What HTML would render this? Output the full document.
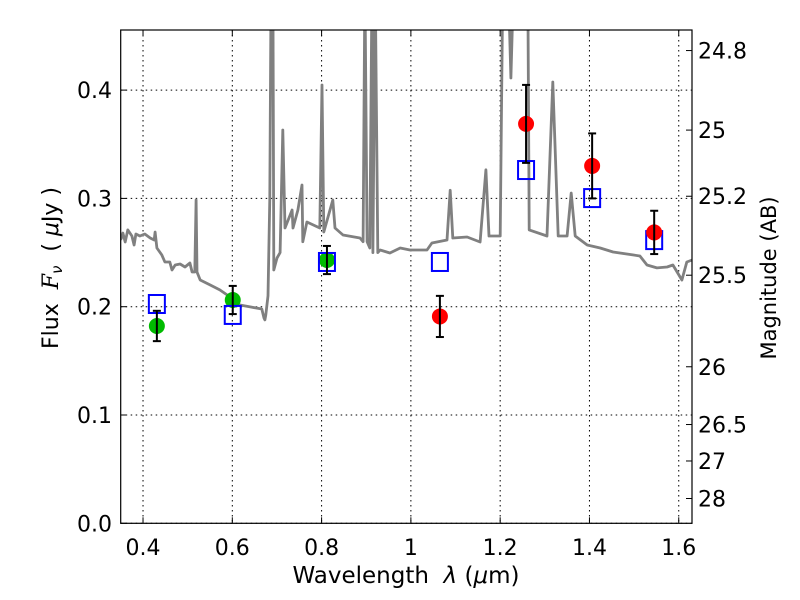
<!DOCTYPE html>
<html><head><meta charset="utf-8"><style>
body{margin:0;background:#fff}
svg{display:block;font-family:"DejaVu Sans","Liberation Sans",sans-serif}
</style></head><body>
<svg id="c" width="800" height="600" xmlns="http://www.w3.org/2000/svg">
<defs><clipPath id="clip"><rect x="120.7" y="30" width="571.3" height="493.3"/></clipPath></defs>
<g id="grid"></g>
<g id="spec" clip-path="url(#clip)"></g>
<g id="marks"></g>
<rect x="120.7" y="30" width="571.3" height="493.3" fill="none" stroke="#000" stroke-width="1.2"/>
<g id="axes"></g>
<text x="406" y="583" font-size="23" text-anchor="middle" xml:space="preserve">Wavelength  <tspan font-style="italic">λ</tspan> (<tspan font-style="italic">μ</tspan>m)</text>
<text transform="translate(58,268) rotate(-90)" font-size="22" text-anchor="middle" xml:space="preserve">Flux  <tspan font-style="italic" font-family="DejaVu Serif">F</tspan><tspan font-size="15" dy="4" font-style="italic">ν</tspan><tspan dy="-4">  ( <tspan font-style="italic">μ</tspan>Jy )</tspan></text>
<text transform="translate(776,278) rotate(-90)" font-size="21" text-anchor="middle">Magnitude (AB)</text>
</svg>
<script>
const xTicks=[0.4,0.6,0.8,1.0,1.2,1.4,1.6];
const xTickLabels=["0.4","0.6","0.8","1","1.2","1.4","1.6"];
const yTicks=[0,0.1,0.2,0.3,0.4];
const yTickLabels=["0.0","0.1","0.2","0.3","0.4"];
const magTicks=[24.8,25,25.2,25.5,26,26.5,27,28];
const magTickLabels=["24.8","25","25.2","25.5","26","26.5","27","28"];
const specWave=[0.35,0.355,0.36,0.366,0.375,0.38,0.384,0.393,0.404,0.416,0.425,0.427,0.431,0.442,0.449,0.46,0.465,0.472,0.483,0.494,0.505,0.51,0.516,0.519,0.521,0.528,0.55,0.572,0.595,0.617,0.64,0.666,0.671,0.673,0.675,0.68,0.684,0.687,0.691,0.693,0.7,0.707,0.713,0.718,0.734,0.736,0.747,0.756,0.758,0.767,0.796,0.801,0.805,0.825,0.83,0.848,0.886,0.893,0.897,0.902,0.908,0.913,0.915,0.92,0.926,0.931,0.953,0.976,0.998,1.036,1.047,1.081,1.088,1.094,1.126,1.155,1.168,1.175,1.2,1.206,1.218,1.224,1.23,1.262,1.265,1.305,1.318,1.33,1.35,1.359,1.368,1.395,1.424,1.453,1.497,1.513,1.529,1.551,1.574,1.587,1.607,1.618,1.63];
const specFlux=[0.2616,0.268,0.2597,0.2709,0.2653,0.257,0.2671,0.2653,0.2671,0.2634,0.2616,0.269,0.2542,0.2478,0.2413,0.2413,0.2339,0.2385,0.2394,0.2367,0.2404,0.232,0.232,0.2985,0.232,0.2247,0.2201,0.2155,0.209,0.2016,0.1998,0.1979,0.1896,0.1878,0.1924,0.21,0.3,0.5,0.5,0.2339,0.245,0.25,0.3632,0.2727,0.2893,0.2727,0.2893,0.3124,0.26,0.2782,0.2727,0.4047,0.269,0.2985,0.2727,0.2662,0.2634,0.26,0.5,0.26,0.2542,0.5,0.25,0.5,0.25,0.2524,0.2496,0.2542,0.2524,0.2524,0.2588,0.2616,0.3075,0.2634,0.2644,0.2597,0.3264,0.2653,0.2653,0.5,0.5,0.4112,0.5,0.5,0.2709,0.2653,0.4075,0.2653,0.2653,0.305,0.2653,0.257,0.2542,0.2505,0.2478,0.2468,0.2385,0.2358,0.2367,0.2385,0.2247,0.2413,0.2431];
const greenWave=[0.431,0.601,0.812];
const greenFlux=[0.1822,0.2062,0.2431];
const greenErr=[0.014,0.013,0.013];
const blueWave=[0.431,0.601,0.812,1.065,1.258,1.406,1.545];
const blueFlux=[0.2025,0.1924,0.2413,0.2413,0.3262,0.3003,0.2615];
const redWave=[1.065,1.258,1.406,1.545];
const redFlux=[0.191,0.3688,0.33,0.2686];
const redErr=[0.019,0.036,0.03,0.02];

const X0=120.7,X1=692,Y0=523.3,Y1=30,xmin=0.35,xmax=1.6297,ymax=0.4555;
const sx=v=>X0+(v-xmin)/(xmax-xmin)*(X1-X0);
const sy=v=>Y0-v/ymax*(Y0-Y1);
const NS="http://www.w3.org/2000/svg";
function mk(parent,tag,attrs){const e=document.createElementNS(NS,tag);for(const k in attrs)e.setAttribute(k,attrs[k]);parent.appendChild(e);return e;}
const grid=document.getElementById('grid'),axes=document.getElementById('axes'),spec=document.getElementById('spec'),marks=document.getElementById('marks');
xTicks.forEach((t,i)=>{
  const x=sx(t);
  const g=mk(grid,'line',{x1:x,x2:x,y1:Y1,y2:Y0,stroke:'#000','stroke-width':1,'stroke-dasharray':'1.5,3.5'});
  
  
  mk(axes,'line',{x1:x,x2:x,y1:Y0,y2:Y0-6,stroke:'#000','stroke-width':1});
  mk(axes,'line',{x1:x,x2:x,y1:Y1,y2:Y1+6,stroke:'#000','stroke-width':1});
  const l=mk(axes,'text',{x:x,y:555,'font-size':22,'text-anchor':'middle'});l.textContent=xTickLabels[i];
  
  
});
yTicks.forEach((t,i)=>{
  const y=sy(t);
  const g=mk(grid,'line',{x1:X0,x2:X1,y1:y,y2:y,stroke:'#000','stroke-width':1,'stroke-dasharray':'1.5,3.5'});
  
  
  mk(axes,'line',{x1:X0,x2:X0+6,y1:y,y2:y,stroke:'#000','stroke-width':1});
  const l=mk(axes,'text',{x:112,y:y+8,'font-size':22,'text-anchor':'end'});l.textContent=yTickLabels[i];
  
  
});
magTicks.forEach((m,i)=>{
  const y=sy(Math.pow(10,(23.9-m)/2.5));
  mk(axes,'line',{x1:X1-6,x2:X1,y1:y,y2:y,stroke:'#000','stroke-width':1});
  const l=mk(axes,'text',{x:698,y:y+8,'font-size':22,'text-anchor':'start'});l.textContent=magTickLabels[i];
  
  
});
const pts=specWave.map((w,i)=>sx(w).toFixed(1)+','+sy(specFlux[i]).toFixed(1)).join(' ');
const pl=mk(spec,'polyline',{points:pts,fill:'none',stroke:'#808080','stroke-width':2.8,'stroke-linejoin':'round'});


function errbar(x,f,e){
  const x0=sx(x),a=sy(f+e),b=sy(f-e);
  mk(marks,'line',{x1:x0,x2:x0,y1:a,y2:b,stroke:'#000','stroke-width':2});
  mk(marks,'line',{x1:x0-4,x2:x0+4,y1:a,y2:a,stroke:'#000','stroke-width':2});
  mk(marks,'line',{x1:x0-4,x2:x0+4,y1:b,y2:b,stroke:'#000','stroke-width':2});
}
greenWave.forEach((w,i)=>{
  const c=mk(marks,'circle',{cx:sx(w),cy:sy(greenFlux[i]),r:8,fill:'#00bb00'});
  
  
});
blueWave.forEach((w,i)=>{
  const r=mk(marks,'rect',{x:sx(w)-8,y:sy(blueFlux[i])-9,width:16,height:18,fill:'none',stroke:'#0000ff','stroke-width':2});
  
  
});
redWave.forEach((w,i)=>{
  const c=mk(marks,'circle',{cx:sx(w),cy:sy(redFlux[i]),r:8,fill:'#ff0000'});
  
  
});
greenWave.forEach((w,i)=>errbar(w,greenFlux[i],greenErr[i]));
redWave.forEach((w,i)=>errbar(w,redFlux[i],redErr[i]));
</script>
</body></html>
